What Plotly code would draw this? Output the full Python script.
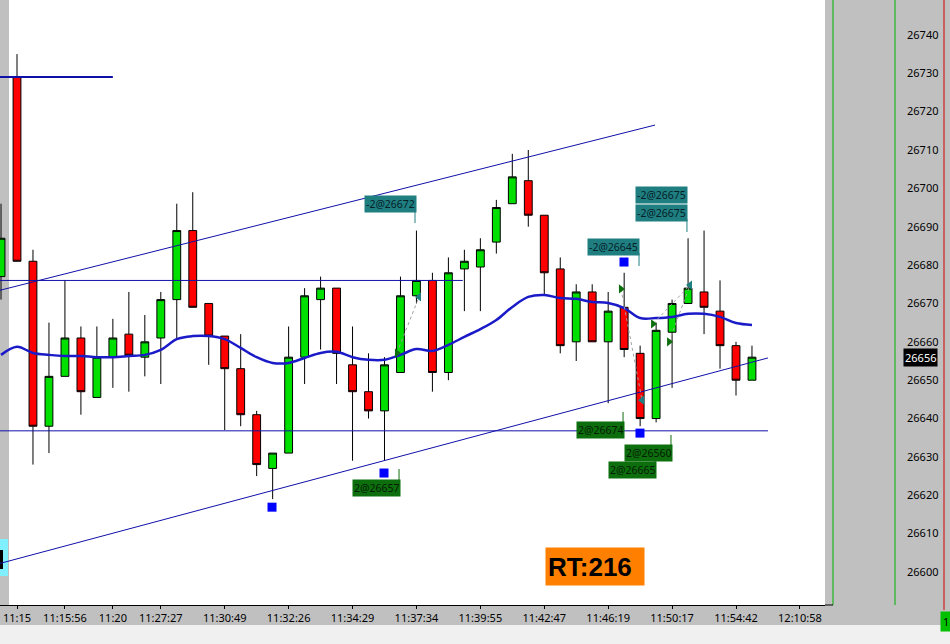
import plotly.graph_objects as go

# ---------------- data ----------------
candle_idx = list(range(-1, 47))
opens = [26677, 26729, 26681, 26638, 26651, 26661, 26645.5, 26656, 26662, 26656, 26661, 26671,
         26689, 26670, 26661.5, 26653, 26641, 26627, 26631, 26656, 26671, 26674, 26654, 26647,
         26642, 26652, 26672, 26676, 26652, 26679, 26679.5, 26686, 26696, 26702, 26693, 26679,
         26660, 26673, 26660, 26669, 26657, 26640, 26662.5, 26670, 26673, 26668, 26659, 26650]
highs = [26696, 26735, 26684, 26665, 26676, 26664, 26664, 26666, 26673, 26667, 26673, 26696,
         26699, 26670, 26661.5, 26662, 26642, 26631, 26664, 26674, 26677, 26674, 26664, 26657,
         26656, 26677, 26689, 26678, 26682, 26684, 26687, 26697, 26709, 26710, 26693, 26682,
         26675, 26675, 26673, 26678, 26659, 26665, 26671, 26687, 26689, 26676, 26660, 26659]
lows = [26671, 26681, 26628, 26631, 26651, 26641, 26645.5, 26648, 26647, 26651, 26649, 26661,
        26669, 26654, 26637, 26638, 26625, 26619, 26631, 26649, 26658, 26649, 26629, 26640,
        26629, 26652, 26670, 26647, 26650, 26668, 26668, 26683, 26696, 26690, 26672, 26657,
        26655, 26660, 26644, 26656, 26638, 26639, 26648, 26670, 26662, 26653, 26646, 26650]
closes = [26687, 26681, 26638, 26651, 26661, 26647, 26656, 26661, 26656.5, 26660, 26671, 26689,
          26669, 26661.5, 26653, 26641, 26628, 26631, 26656, 26672, 26674, 26657, 26647, 26642,
          26654, 26672, 26676, 26652, 26678, 26681, 26684, 26695, 26703, 26693, 26678, 26659,
          26673, 26660, 26668, 26658, 26640, 26663, 26670, 26674, 26669, 26659, 26650, 26656]

ma_vals = [26656.6, 26658.7, 26657.1, 26656.6, 26656.3, 26656.3, 26656.0, 26656.0, 26656.3, 26656.6,
           26657.9, 26660.7, 26661.5, 26661.5, 26660.7, 26658.4, 26656.0, 26654.5, 26654.5, 26655.8,
           26657.1, 26657.4, 26656.0, 26655.3, 26655.3, 26656.6, 26658.1, 26657.6, 26659.2, 26661.3,
           26663.3, 26665.7, 26669.1, 26671.7, 26672.2, 26671.4, 26671.2, 26670.4, 26670.1, 26668.8,
           26666.2, 26666.2, 26666.5, 26667.3, 26667.3, 26666.5, 26664.9, 26664.4]

tick_vals = [0, 3, 6, 9, 13, 17, 21, 25, 29, 33, 37, 41, 45, 49]
tick_text = ["11:15", "11:15:56", "11:20", "11:27:27", "11:30:49", "11:32:26", "11:34:29",
             "11:37:34", "11:39:55", "11:42:47", "11:46:19", "11:50:17", "11:54:42", "12:10:58"]

upper_ch_x = [-1.1, 39.93]
upper_ch_y = [26673.4, 26716.5]
lower_ch_x = [-1.1, 47.0]
lower_ch_y = [26602.2, 26655.8]
hline_a_x = [-1.1, 27.9]
hline_a_y = [26676.0, 26676.0]
hline_b_x = [-1.1, 47.0]
hline_b_y = [26636.8, 26636.8]
top_line_x = [-1.1, 6.0]
top_line_y = [26729.0, 26729.0]

fill_x = [15.96, 22.97, 37.99, 38.99]
fill_y = [26616.9, 26625.8, 26680.8, 26636.2]

entry_x = [23.78, 37.80, 39.81, 40.81]
entry_y = [26657.1, 26673.8, 26664.7, 26660.0]
exit_x = [25.16, 39.12, 42.12]
exit_y = [26671.7, 26644.8, 26674.8]

trade_link_x = [23.78, 25.16, None, 37.80, 39.12, None, 39.81, 42.12, None, 40.81, 42.12]
trade_link_y = [26657.1, 26671.7, None, 26673.8, 26644.8, None, 26664.7, 26674.8, None, 26660.0, 26674.8]

sell_labels = ["-2@26672", "-2@26645", "-2@26675", "-2@26675"]
sell_lab_x = [25.03, 38.99, 42.0, 42.0]
sell_lab_y = [26695.8, 26684.7, 26698.15, 26693.6]
buy_labels = ["2@26657", "2@26674", "2@26560", "2@26665"]
buy_lab_x = [24.03, 38.05, 41.06, 40.06]
buy_lab_y = [26622.0, 26636.9, 26630.9, 26626.5]

sell_conn_x = [24.91, 24.91, None, 38.93, 38.93, None, 41.93, 41.93]
sell_conn_y = [26693.85, 26690.98, None, 26683.16, 26679.77, None, 26692.02, 26688.63]
buy_conn_x = [23.91, 23.91, None, 37.93, 37.93, None, 40.93, 40.93, None, 39.93, 39.93]
buy_conn_y = [26626.85, 26623.72, None, 26641.71, 26638.58, None, 26635.71, 26632.59, None, 26629.2, 26628.15]

last_price = 26656
rt_text = "RT:216"

# ---------------- styles ----------------
GREEN = "#00e000"
RED = "#ff0000"
NAVY = "#1010a8"
MA_BLUE = "#1a1ac8"
TEAL = "#1f7f80"
DKGREEN = "#0d6e0d"

fig = go.Figure()

fig.add_trace(go.Candlestick(
    x=candle_idx, open=opens, high=highs, low=lows, close=closes,
    increasing=dict(line=dict(color="black", width=1), fillcolor=GREEN),
    decreasing=dict(line=dict(color="black", width=1), fillcolor=RED),
    whiskerwidth=0, hoverinfo="skip"))

def line(x, y, color, width=1, dash=None, shape="linear"):
    fig.add_trace(go.Scatter(x=x, y=y, mode="lines", hoverinfo="skip",
                             line=dict(color=color, width=width, dash=dash, shape=shape)))

line(upper_ch_x, upper_ch_y, NAVY, 1)
line(lower_ch_x, lower_ch_y, NAVY, 1)
line(hline_a_x, hline_a_y, NAVY, 1)
line(hline_b_x, hline_b_y, NAVY, 1)
line(top_line_x, top_line_y, NAVY, 2)
line(candle_idx, ma_vals, MA_BLUE, 2.5, shape="spline")
line(trade_link_x, trade_link_y, "#a0a0a0", 1, dash="dot")
line(sell_conn_x, sell_conn_y, TEAL, 1)
line(buy_conn_x, buy_conn_y, DKGREEN, 1)

fig.add_trace(go.Scatter(x=fill_x, y=fill_y, mode="markers", hoverinfo="skip",
                         marker=dict(symbol="square", size=9, color="#0000ff")))
fig.add_trace(go.Scatter(x=entry_x, y=entry_y, mode="markers", hoverinfo="skip",
                         marker=dict(symbol="triangle-right", size=8, color=DKGREEN)))
fig.add_trace(go.Scatter(x=exit_x, y=exit_y, mode="markers", hoverinfo="skip",
                         marker=dict(symbol="triangle-left", size=8, color=TEAL)))

annotations = []
for t, x, y in zip(sell_labels, sell_lab_x, sell_lab_y):
    annotations.append(dict(x=x, y=y, xref="x", yref="y", text=t, showarrow=False,
                            xanchor="right", yanchor="middle", bgcolor=TEAL, borderpad=1,
                            font=dict(family="Noto Sans", size=10.5, color="#06202a")))
for t, x, y in zip(buy_labels, buy_lab_x, buy_lab_y):
    annotations.append(dict(x=x, y=y, xref="x", yref="y", text=t, showarrow=False,
                            xanchor="right", yanchor="middle", bgcolor=DKGREEN, borderpad=1,
                            font=dict(family="Noto Sans", size=10.5, color="#041c04")))

PW = 825.0
PH = 605.0
annotations.append(dict(x=903 / PW, y=last_price, xref="paper", yref="y", text=str(last_price),
                        showarrow=False, xanchor="left", yanchor="middle", bgcolor="black",
                        borderpad=1, font=dict(family="Noto Sans", size=11, color="white")))
annotations.append(dict(x=545 / PW, y=(PH - 547) / PH, xref="paper", yref="paper",
                        text="<b>" + rt_text + "</b>", showarrow=False, xanchor="left",
                        yanchor="top", bgcolor="#ff8000", width=94, height=33, borderpad=2,
                        align="left", valign="middle",
                        font=dict(family="Liberation Sans", size=26, color="black")))
annotations.append(dict(x=940 / PW, y=(PH - 621) / PH, xref="paper", yref="paper", text="1",
                        showarrow=False, xanchor="left", yanchor="middle", bgcolor="#00c000",
                        borderpad=2, font=dict(family="Noto Sans", size=11, color="black")))

shapes = [
    dict(type="rect", xref="paper", yref="paper", x0=0, x1=9 / PW, y0=0, y1=1,
         fillcolor="#c0c0c0", line=dict(width=0), layer="below"),
    dict(type="rect", xref="paper", yref="paper", x0=0, x1=8 / PW,
         y0=(PH - 576) / PH, y1=(PH - 539) / PH, fillcolor="#80f0ff", line=dict(width=0), layer="below"),
    dict(type="rect", xref="paper", yref="paper", x0=0, x1=3 / PW,
         y0=(PH - 569) / PH, y1=(PH - 550) / PH, fillcolor="black", line=dict(width=0), layer="below"),
    dict(type="rect", xref="paper", yref="paper", x0=-0.01, x1=950 / PW,
         y0=(PH - 644) / PH, y1=(PH - 625) / PH, fillcolor="#f0f0f0", line=dict(width=0)),
    dict(type="line", xref="paper", yref="paper", x0=833 / PW, x1=833 / PW, y0=0, y1=1,
         line=dict(color="#00b000", width=1)),
    dict(type="line", xref="paper", yref="paper", x0=895 / PW, x1=895 / PW, y0=0, y1=1,
         line=dict(color="#00b000", width=1)),
    dict(type="line", xref="paper", yref="paper", x0=944 / PW, x1=944 / PW, y0=(PH - 610) / PH, y1=1,
         line=dict(color="#d00000", width=1)),
    dict(type="line", xref="paper", yref="paper", x0=1, x1=833 / PW, y0=0, y1=0,
         line=dict(color="black", width=1)),
]

fig.update_layout(
    width=950, height=644,
    margin=dict(l=0, r=125, t=0, b=39),
    paper_bgcolor="#c0c0c0", plot_bgcolor="white",
    showlegend=False,
    annotations=annotations, shapes=shapes,
    xaxis=dict(range=[-1.064, 50.57], rangeslider=dict(visible=False),
               tickmode="array", tickvals=tick_vals, ticktext=tick_text,
               showgrid=False, zeroline=False, showline=True, linecolor="black", linewidth=1,
               ticks="outside", ticklen=3, tickcolor="black",
               tickfont=dict(family="Noto Sans", size=11, color="black")),
    yaxis=dict(range=[26591.4, 26749.1], side="right", tick0=26600, dtick=10,
               tickformat="d",
               showgrid=False, zeroline=False, showline=False, ticks="",
               ticklabelstandoff=81,
               tickfont=dict(family="Noto Sans", size=11, color="black")),
)

fig.write_html("out.html", config={"displayModeBar": False},
               post_script="document.body.style.margin='0';document.body.style.overflow='hidden';")
